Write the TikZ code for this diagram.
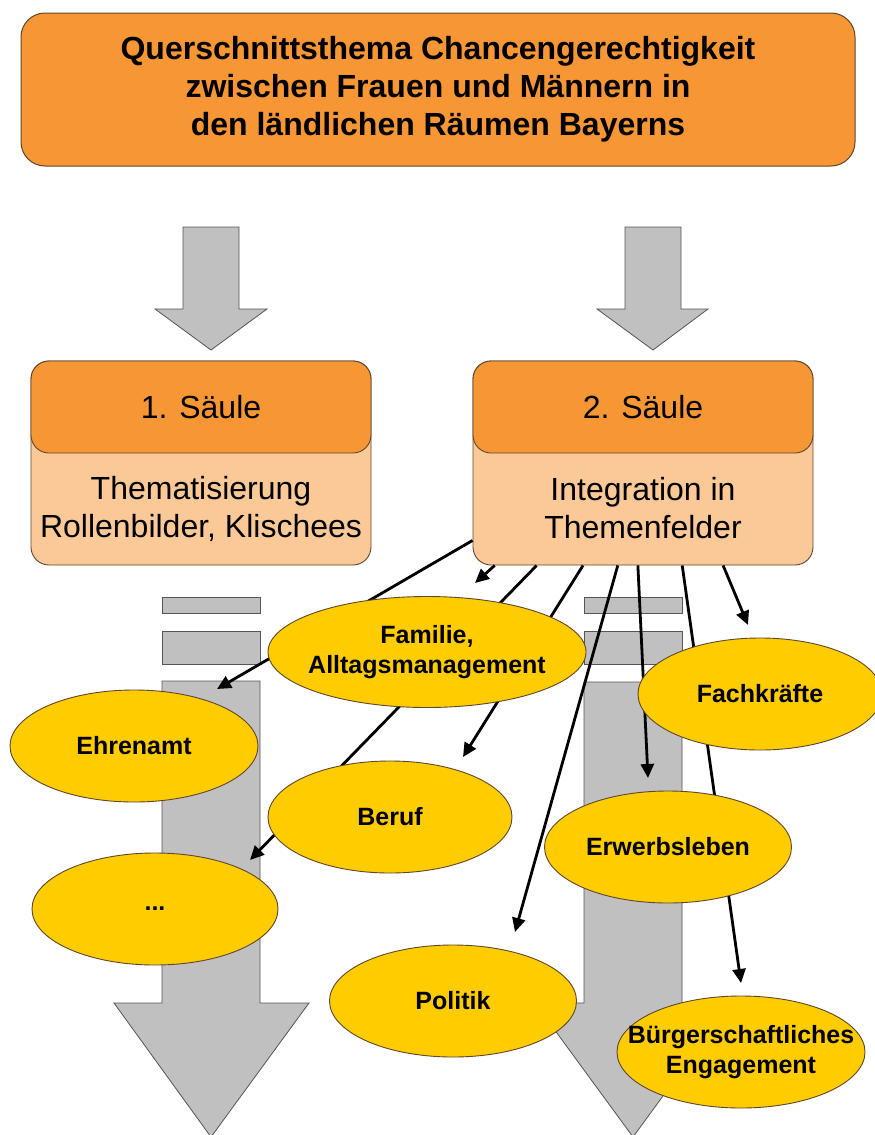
\documentclass[tikz,border=0pt]{standalone}
\usepackage{fontspec}
\setmainfont{Liberation Sans}
\usetikzlibrary{shapes.geometric,arrows.meta,calc}
\definecolor{orangeA}{RGB}{247,150,52}
\definecolor{peach}{RGB}{251,201,152}
\definecolor{yel}{RGB}{255,204,0}
\definecolor{grayA}{RGB}{192,192,192}
\definecolor{edgeA}{RGB}{95,70,45}
\definecolor{edgeG}{RGB}{85,85,85}
\begin{document}
\begin{tikzpicture}[x=1pt,y=-1pt,
  topbox/.style={draw=edgeA, line width=1pt, fill=orangeA, rounded corners=24pt,
    minimum width=834pt, minimum height=153pt, inner sep=0pt, align=center,
    font=\fontsize{32}{38}\selectfont\bfseries},
  pbody/.style={draw=edgeA, line width=0.9pt, fill=peach, rounded corners=18pt,
    minimum width=340pt, minimum height=204pt, inner sep=0pt},
  phead/.style={draw=edgeA, line width=0.9pt, fill=orangeA, rounded corners=18pt,
    minimum width=340pt, minimum height=92pt, inner sep=0pt,
    font=\fontsize{32}{38}\selectfont},
  ptext/.style={inner sep=0pt, align=center, font=\fontsize{32}{38}\selectfont},
  ell/.style={ellipse, draw=edgeA, line width=0.9pt, fill=yel, inner sep=-70pt,
    minimum width=248pt, minimum height=112pt, align=center,
    font=\fontsize{25}{30}\selectfont\bfseries},
  garrow/.style={draw=edgeG, line width=0.8pt, fill=grayA},
  conn/.style={line width=2.8pt, black, -{Triangle[length=14pt,width=13pt]}}
]
\useasboundingbox[fill=white] (0,0) rectangle (875,1135);

% big gray arrows (background)
\draw[garrow] (162,597) rectangle (260,613);
\draw[garrow] (162,631) rectangle (260,664);
\draw[garrow] (162,681) -- (260,681) -- (260,1003) -- (309,1003) -- (211,1137)
  -- (114,1003) -- (162,1003) -- cycle;
\draw[garrow] (584,597) rectangle (682,613);
\draw[garrow] (584,631) rectangle (682,664);
\draw[garrow] (584,682) -- (682,682) -- (682,1003) -- (731,1003) -- (633,1137)
  -- (535,1003) -- (584,1003) -- cycle;

% top small arrows
\draw[garrow] (183,227) -- (239,227) -- (239,309) -- (267,309) -- (211,350)
  -- (155,309) -- (183,309) -- cycle;
\draw[garrow] (625,227) -- (681,227) -- (681,309) -- (708,309) -- (653,350)
  -- (597,309) -- (625,309) -- cycle;

% top box
\node[topbox] (top) at (438,89.5) {Querschnittsthema Chancengerechtigkeit\\
  zwischen Frauen und Männern in\\ den ländlichen Räumen Bayerns};

% pillars
\node[pbody] (p1) at (201,463) {};
\node[phead] (p1h) at (201,407) {1. Säule};
\node[ptext] (p1t) at (201,509) {Thematisierung\\Rollenbilder, Klischees};
\node[pbody] (p2) at (643,463) {};
\node[phead] (p2h) at (643,407) {2. Säule};
\node[ptext] (p2t) at (643,508) {Integration in\\Themenfelder};

% connector start points on pillar 2
\coordinate (s1) at ($(p2.south west)+(0,-25)$);
\coordinate (s2) at ($(p2.south west)!0.065!(p2.south east)$);
\coordinate (s3) at ($(p2.south west)!0.188!(p2.south east)$);
\coordinate (s4) at ($(p2.south west)!0.324!(p2.south east)$);
\coordinate (s5) at ($(p2.south west)!0.426!(p2.south east)$);
\coordinate (s6) at ($(p2.south west)!0.485!(p2.south east)$);
\coordinate (s7) at ($(p2.south west)!0.615!(p2.south east)$);
\coordinate (s8) at ($(p2.south west)!0.735!(p2.south east)$);
% connector tips
\coordinate (tEhren) at (217,689);
\coordinate (tFam) at (475,583);
\coordinate (tDots) at (250,860);
\coordinate (tBeruf) at (463,757);
\coordinate (tPol) at (515,932);
\coordinate (tErw) at (648,778);
\coordinate (tBuerg) at (741,983);
\coordinate (tFach) at (748,625);

\draw[conn] (s1) -- (tEhren);
\draw[conn] (s2) -- (tFam);
\draw[conn] (s3) -- (tDots);
\draw[conn] (s4) -- (tBeruf);
\draw[conn] (s5) -- (tPol);
\draw[conn] (s6) -- (tErw);
\draw[conn] (s7) -- (tBuerg);
\draw[conn] (s8) -- (tFach);

% ellipses
\node[ell, minimum width=318pt, minimum height=111pt] (fam) at (427,652) {Familie,\\Alltagsmanagement};
\node[ell] (ehren) at (134,746) {Ehrenamt};
\node[ell, minimum width=244pt] (beruf) at (390,817) {Beruf};
\node[ell, minimum width=246pt] (dots) at (155,909) {...};
\node[ell, minimum width=244pt] (fach) at (760,694) {Fachkräfte};
\node[ell, minimum width=247pt] (erw) at (668,847) {Erwerbsleben};
\node[ell, minimum width=247pt] (pol) at (453,1001) {Politik};
\node[ell] (buerg) at (741,1052) {Bürgerschaftliches\\Engagement};
\end{tikzpicture}
\end{document}
